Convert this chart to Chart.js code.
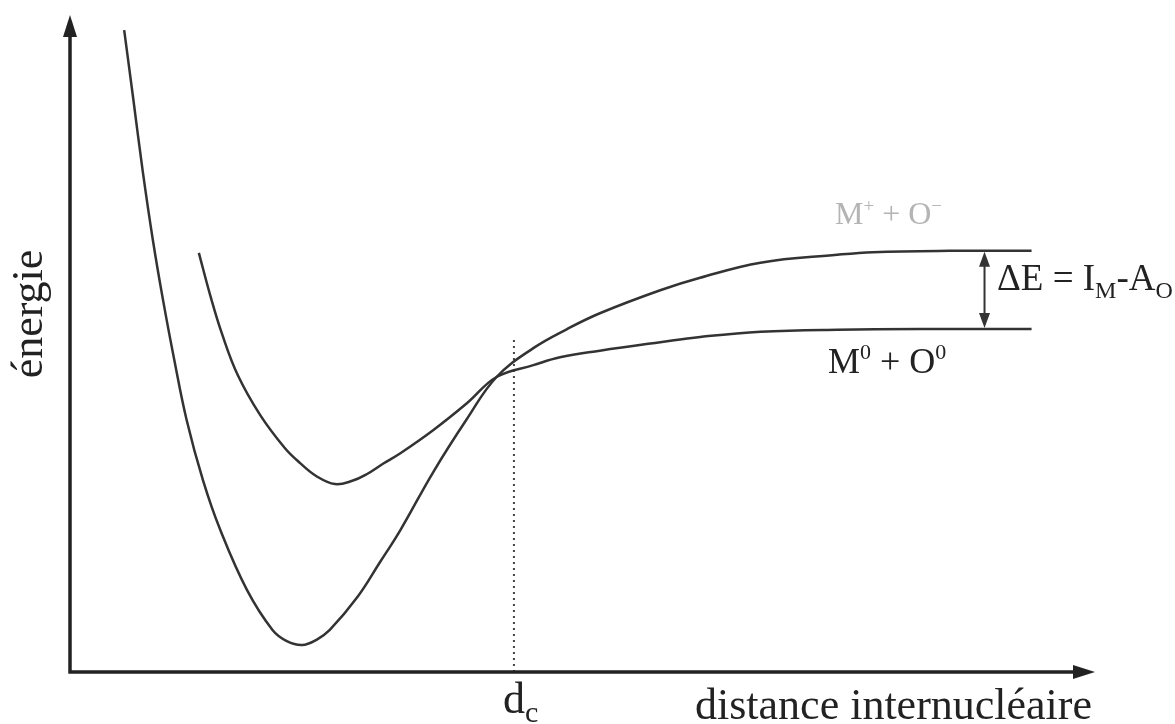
<!DOCTYPE html>
<html>
<head>
<meta charset="utf-8">
<script src="https://cdn.jsdelivr.net/npm/chart.js@4.4.1/dist/chart.umd.min.js"></script>
<style>
  html, body { margin: 0; padding: 0; background: #fff; }
  canvas { display: block; }
</style>
</head>
<body>
<canvas id="graph" width="1175" height="724"></canvas>
<script>
// distance (arbitrary units) and energy (arbitrary units)
const ionicX = [0.51, 0.60, 0.69, 0.79, 0.89, 1.00, 1.12, 1.28, 1.45, 1.71, 1.96, 2.10, 2.25, 2.39, 2.52, 2.79, 3.01, 3.21, 3.53, 3.86, 4.15, 4.51, 4.84, 5.16, 5.75, 6.14, 6.73, 7.48, 7.83, 8.58, 9.38];
const ionicY = [9.77, 8.71, 7.64, 6.58, 5.66, 4.75, 3.84, 2.92, 2.16, 1.25, 0.64, 0.47, 0.41, 0.49, 0.64, 1.14, 1.67, 2.16, 3.04, 3.85, 4.49, 4.93, 5.22, 5.46, 5.81, 6.00, 6.23, 6.35, 6.39, 6.41, 6.41];

const covalentX = [1.24, 1.35, 1.47, 1.62, 1.84, 2.08, 2.23, 2.39, 2.57, 2.74, 2.88, 3.04, 3.21, 3.53, 3.86, 4.15, 4.51, 4.77, 5.16, 5.75, 6.14, 6.73, 7.48, 8.58, 9.38];
const covalentY = [6.38, 5.74, 5.13, 4.52, 3.91, 3.41, 3.18, 2.98, 2.86, 2.91, 3.01, 3.17, 3.33, 3.68, 4.09, 4.49, 4.67, 4.79, 4.89, 5.02, 5.10, 5.18, 5.21, 5.22, 5.22];

const dcX = 4.32;          // crossing distance d_c
const dcTop = 5.1;
const deltaX = 8.92;       // where the ΔE arrow sits
const levelIonic = 6.41;
const levelCovalent = 5.22;

function pts(xs, ys) {
  return xs.map((x, i) => ({ x: x, y: ys[i] }));
}

const ink = "#333";
const serif = "'Liberation Serif', 'DejaVu Serif', serif";

function arrowHead(ctx, x, y, dir, len, half) {
  ctx.beginPath();
  if (dir === "up") {
    ctx.moveTo(x, y); ctx.lineTo(x - half, y + len); ctx.lineTo(x + half, y + len);
  } else if (dir === "down") {
    ctx.moveTo(x, y); ctx.lineTo(x - half, y - len); ctx.lineTo(x + half, y - len);
  } else {
    ctx.moveTo(x, y); ctx.lineTo(x - len, y - half); ctx.lineTo(x - len, y + half);
  }
  ctx.closePath();
  ctx.fill();
}

function runs(ctx, x, y, parts) {
  parts.forEach(p => {
    ctx.font = p.size + "px " + serif;
    ctx.fillText(p.t, x, y + (p.dy || 0));
    x += ctx.measureText(p.t).width;
  });
}

const decorations = {
  id: "decorations",
  afterDraw(chart) {
    const ctx = chart.ctx;
    const a = chart.chartArea;
    const sx = chart.scales.x, sy = chart.scales.y;
    ctx.save();
    ctx.strokeStyle = "#222";
    ctx.fillStyle = "#222";
    ctx.lineWidth = 3.5;

    // axes with arrows
    ctx.beginPath();
    ctx.moveTo(a.left - 2, a.bottom + 1.5);
    ctx.lineTo(a.left - 2, a.top + 18);
    ctx.moveTo(a.left - 3.5, a.bottom);
    ctx.lineTo(a.right - 18, a.bottom);
    ctx.stroke();
    arrowHead(ctx, a.left - 2, a.top, "up", 22, 7);
    arrowHead(ctx, a.right, a.bottom, "right", 22, 7);

    // ΔE double arrow
    const ax = sx.getPixelForValue(deltaX);
    const y1 = sy.getPixelForValue(levelIonic);
    const y2 = sy.getPixelForValue(levelCovalent);
    ctx.lineWidth = 2;
    ctx.fillStyle = ink;
    ctx.strokeStyle = ink;
    ctx.beginPath();
    ctx.moveTo(ax, y1 + 10);
    ctx.lineTo(ax, y2 - 10);
    ctx.stroke();
    arrowHead(ctx, ax, y1 + 1, "up", 15, 5.5);
    arrowHead(ctx, ax, y2 - 1, "down", 15, 5.5);

    // texts
    ctx.fillStyle = "#222";
    ctx.textBaseline = "alphabetic";
    ctx.textAlign = "left";

    ctx.save();
    ctx.translate(42, 314);
    ctx.rotate(-Math.PI / 2);
    ctx.textAlign = "center";
    ctx.font = "44px " + serif;
    ctx.fillText("énergie", 0, 0);
    ctx.restore();

    ctx.font = "44px " + serif;
    ctx.fillText("distance internucléaire", 695, 719);

    const dx = sx.getPixelForValue(dcX);
    runs(ctx, dx - 11, 713, [{ t: "d", size: 44 }, { t: "c", size: 30, dy: 9 }]);

    runs(ctx, 828, 373, [
      { t: "M", size: 36 }, { t: "0", size: 22, dy: -14 },
      { t: " + O", size: 36 }, { t: "0", size: 22, dy: -14 }
    ]);

    runs(ctx, 997, 290, [
      { t: "ΔE = I", size: 37 }, { t: "M", size: 24, dy: 8 },
      { t: "-A", size: 37 }, { t: "O", size: 24, dy: 8 }
    ]);

    ctx.fillStyle = "#b4b4b4";
    runs(ctx, 835, 224, [
      { t: "M", size: 32 }, { t: "+", size: 19, dy: -12 },
      { t: " + O", size: 32 }, { t: "−", size: 19, dy: -12 }
    ]);
    ctx.restore();
  }
};

const chart = new Chart(document.getElementById("graph").getContext("2d"), {
  type: "line",
  data: {
    datasets: [
      {
        label: "M+ + O-",
        data: pts(ionicX, ionicY),
        borderColor: ink,
        borderWidth: 2.5,
        pointRadius: 0,
        tension: 0.4,
        fill: false,
      },
      {
        label: "M0 + O0",
        data: pts(covalentX, covalentY),
        borderColor: ink,
        borderWidth: 2.5,
        pointRadius: 0,
        tension: 0.4,
        fill: false,
      },
      {
        label: "dc",
        data: [{ x: dcX, y: 0 }, { x: dcX, y: dcTop }],
        borderColor: "#444",
        borderWidth: 2,
        borderDash: [2, 4],
        pointRadius: 0,
        fill: false,
      },
    ],
  },
  options: {
    responsive: false,
    animation: false,
    devicePixelRatio: 1,
    layout: { padding: { left: 72, right: 80, top: 15, bottom: 52 } },
    scales: {
      x: { type: "linear", min: 0, max: 10, display: false },
      y: { type: "linear", min: 0, max: 10, display: false },
    },
    plugins: {
      legend: { display: false },
      tooltip: { enabled: false },
    },
  },
  plugins: [decorations],
});
</script>
</body>
</html>
